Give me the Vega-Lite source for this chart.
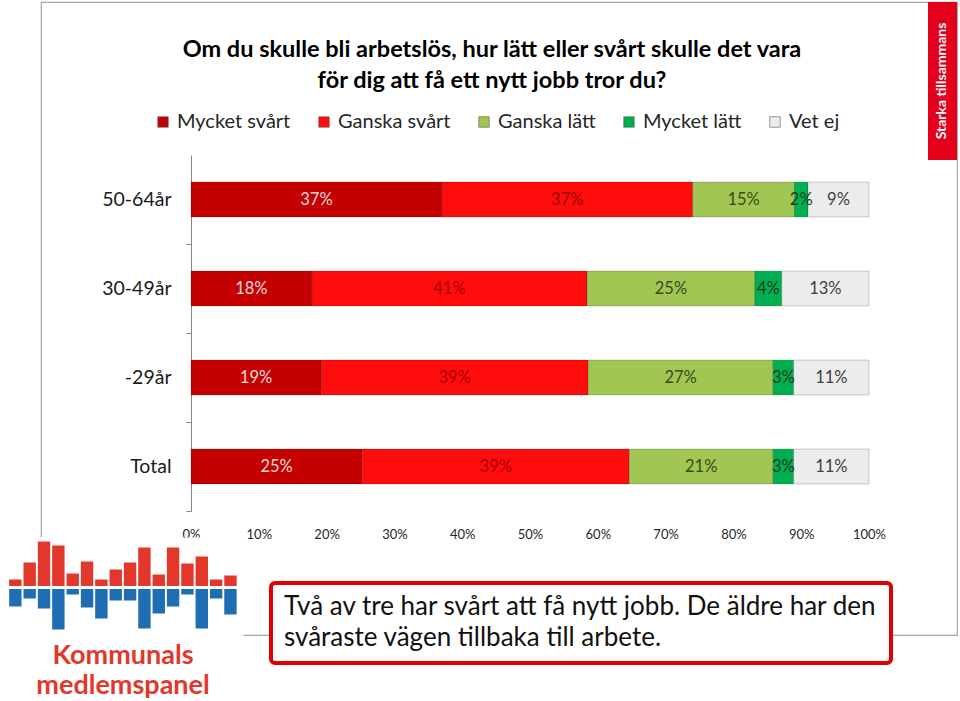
{
  "$schema": "https://vega.github.io/schema/vega-lite/v6.json",
  "width": 916,
  "height": 633,
  "autosize": "none",
  "padding": {"left": 41, "top": 2, "right": 3, "bottom": 66},
  "background": "white",
  "config": {
    "font": "Lato",
    "view": {"stroke": "#a6a6a6", "strokeWidth": 1.2}
  },
  "title": {
    "text": ["Om du skulle bli arbetslös, hur lätt eller svårt skulle det vara", "för dig att få ett nytt jobb tror du?"],
    "font": "Lato",
    "fontSize": 23.5,
    "fontWeight": "bold",
    "color": "#000000",
    "anchor": "middle",
    "frame": "group",
    "baseline": "bottom",
    "offset": -114,
    "dx": -7,
    "lineHeight": 31
  },
  "datasets": {
    "svar": [
      {"grupp": "50-64år", "svar": "Mycket svårt", "andel": 0.37, "ordning": 1},
      {"grupp": "50-64år", "svar": "Ganska svårt", "andel": 0.37, "ordning": 2},
      {"grupp": "50-64år", "svar": "Ganska lätt", "andel": 0.15, "ordning": 3},
      {"grupp": "50-64år", "svar": "Mycket lätt", "andel": 0.02, "ordning": 4},
      {"grupp": "50-64år", "svar": "Vet ej", "andel": 0.09, "ordning": 5},
      {"grupp": "30-49år", "svar": "Mycket svårt", "andel": 0.18, "ordning": 1},
      {"grupp": "30-49år", "svar": "Ganska svårt", "andel": 0.41, "ordning": 2},
      {"grupp": "30-49år", "svar": "Ganska lätt", "andel": 0.25, "ordning": 3},
      {"grupp": "30-49år", "svar": "Mycket lätt", "andel": 0.04, "ordning": 4},
      {"grupp": "30-49år", "svar": "Vet ej", "andel": 0.13, "ordning": 5},
      {"grupp": "-29år", "svar": "Mycket svårt", "andel": 0.19, "ordning": 1},
      {"grupp": "-29år", "svar": "Ganska svårt", "andel": 0.39, "ordning": 2},
      {"grupp": "-29år", "svar": "Ganska lätt", "andel": 0.27, "ordning": 3},
      {"grupp": "-29år", "svar": "Mycket lätt", "andel": 0.03, "ordning": 4},
      {"grupp": "-29år", "svar": "Vet ej", "andel": 0.11, "ordning": 5},
      {"grupp": "Total", "svar": "Mycket svårt", "andel": 0.25, "ordning": 1},
      {"grupp": "Total", "svar": "Ganska svårt", "andel": 0.39, "ordning": 2},
      {"grupp": "Total", "svar": "Ganska lätt", "andel": 0.21, "ordning": 3},
      {"grupp": "Total", "svar": "Mycket lätt", "andel": 0.03, "ordning": 4},
      {"grupp": "Total", "svar": "Vet ej", "andel": 0.11, "ordning": 5}
    ],
    "logo": [
      {"nr": 1, "röd": 8, "blå": -19},
      {"nr": 2, "röd": 25, "blå": -11},
      {"nr": 3, "röd": 46, "blå": -21},
      {"nr": 4, "röd": 42, "blå": -42},
      {"nr": 5, "röd": 14, "blå": -7},
      {"nr": 6, "röd": 26, "blå": -20},
      {"nr": 7, "röd": 8, "blå": -31},
      {"nr": 8, "röd": 18, "blå": -13},
      {"nr": 9, "röd": 25, "blå": -13},
      {"nr": 10, "röd": 40, "blå": -41},
      {"nr": 11, "röd": 13, "blå": -26},
      {"nr": 12, "röd": 40, "blå": -19},
      {"nr": 13, "röd": 24, "blå": -7},
      {"nr": 14, "röd": 31, "blå": -41},
      {"nr": 15, "röd": 8, "blå": -11},
      {"nr": 16, "röd": 12, "blå": -27}
    ],
    "texter": [
      {"band": "Starka tillsammans", "budskap": "Två av tre har svårt att få nytt jobb. De äldre har den\nsvåraste vägen tillbaka till arbete.", "namn": "Kommunals\nmedlemspanel"}
    ]
  },
  "layer": [
    {
      "data": {"name": "svar"},
      "layer": [
        {
          "mark": {"type": "bar", "stroke": "#000000", "strokeOpacity": 0.18, "strokeWidth": 1},
          "encoding": {
            "y": {
              "field": "grupp", "type": "nominal",
              "scale": {"domain": ["50-64år", "30-49år", "-29år", "Total"], "range": [153, 509], "paddingInner": 0.608, "paddingOuter": 0.304},
              "axis": {"title": null, "offset": -150, "domain": true, "domainColor": "#868686", "ticks": true, "bandPosition": 1, "tickOffset": 27, "labelOffset": -27, "tickExtra": false, "tickSize": 5, "tickColor": "#868686", "labelFontSize": 19.5, "labelColor": "#1a1a1a", "labelPadding": 15, "labelFont": "Lato"}
            },
            "x": {
              "field": "andel", "type": "quantitative", "stack": "normalize",
              "scale": {"domain": [-0.22124, 1.12979], "nice": false, "zero": false},
              "axis": {"title": null, "offset": -124, "domain": false, "ticks": false, "grid": false, "values": [0, 0.1, 0.2, 0.3, 0.4, 0.5, 0.6, 0.7, 0.8, 0.9, 1], "format": ".0%", "labelFontSize": 13, "labelPadding": 17, "labelColor": "#262626", "labelFont": "Lato"}
            },
            "color": {
              "field": "svar", "type": "nominal",
              "scale": {"domain": ["Mycket svårt", "Ganska svårt", "Ganska lätt", "Mycket lätt", "Vet ej"], "range": ["#C40000", "#FF0D0D", "#A2C653", "#00B050", "#ECECEC"]},
              "legend": {"orient": "none", "legendX": 112, "legendY": 110, "direction": "horizontal", "title": null, "padding": 0, "symbolType": "square", "symbolSize": 110, "symbolStrokeColor": "#555555", "symbolStrokeWidth": 0.6, "labelFontSize": 20, "labelColor": "#262626", "labelFont": "Lato", "labelOffset": 4, "columnPadding": 23, "labelLimit": 300}
            },
            "order": {"field": "ordning", "type": "quantitative"}
          }
        },
        {
          "mark": {"type": "text", "fontSize": 16.5, "font": "Lato", "baseline": "middle", "align": "center"},
          "encoding": {
            "y": {"field": "grupp", "type": "nominal"},
            "x": {"field": "andel", "type": "quantitative", "stack": "normalize", "bandPosition": 0.5},
            "detail": {"field": "svar", "type": "nominal"},
            "order": {"field": "ordning", "type": "quantitative"},
            "text": {"field": "andel", "type": "quantitative", "format": ".0%"},
            "color": {
              "condition": [
                {"test": "datum.svar === 'Mycket svårt'", "value": "#f7dada"},
                {"test": "datum.svar === 'Ganska svårt'", "value": "#a30000"},
                {"test": "datum.svar === 'Ganska lätt'", "value": "#3a4a1b"},
                {"test": "datum.svar === 'Mycket lätt'", "value": "#143a20"}
              ],
              "value": "#404040"
            }
          }
        }
      ]
    },
    {
      "data": {"name": "texter"},
      "layer": [
        {
          "mark": {"type": "rect", "color": "#E3001B"},
          "encoding": {
            "x": {"datum": 1.08702, "type": "quantitative", "scale": {"domain": [-0.22124, 1.12979], "nice": false, "zero": false}, "axis": null},
            "x2": {"datum": 1.12979},
            "y": {"datum": 0.7504, "type": "quantitative", "scale": {"domain": [0, 1], "nice": false, "zero": false}, "axis": null},
            "y2": {"datum": 1}
          }
        },
        {
          "mark": {"type": "text", "angle": 270, "color": "white", "fontWeight": "bold", "fontSize": 14, "font": "Lato", "align": "center", "baseline": "middle"},
          "encoding": {
            "x": {"datum": 1.1084, "type": "quantitative"},
            "y": {"datum": 0.8752, "type": "quantitative"},
            "text": {"field": "band"}
          }
        },
        {
          "mark": {"type": "rect", "fill": "white", "stroke": "#E00000", "strokeWidth": 4, "cornerRadius": 4},
          "encoding": {
            "x": {"datum": 0.11799, "type": "quantitative"},
            "x2": {"datum": 1.03245},
            "y": {"datum": 0.08215, "type": "quantitative"},
            "y2": {"datum": -0.04423}
          }
        },
        {
          "mark": {"type": "text", "align": "left", "baseline": "middle", "fontSize": 26, "font": "Lato", "color": "#111111", "lineHeight": 31, "lineBreak": "\n"},
          "encoding": {
            "x": {"datum": 0.13717, "type": "quantitative"},
            "y": {"datum": 0.04423, "type": "quantitative"},
            "text": {"field": "budskap"}
          }
        }
      ]
    },
    {
      "layer": [
        {
          "data": {"name": "texter"},
          "mark": {"type": "rect", "fill": "white"},
          "encoding": {
            "x": {"datum": 0.3, "type": "quantitative", "scale": {"domain": [3.138, 66.31], "nice": false, "zero": false}, "axis": null},
            "x2": {"datum": 16.9},
            "y": {"datum": 50, "type": "quantitative", "scale": {"domain": [-47.5, 585.5], "nice": false, "zero": false}, "axis": null},
            "y2": {"datum": -114}
          }
        },
        {
          "data": {"name": "logo"},
          "mark": {"type": "bar", "color": "#E2382B", "width": 12.4, "y2Offset": -1.5},
          "encoding": {
            "x": {"field": "nr", "type": "quantitative"},
            "y": {"field": "röd", "type": "quantitative"},
            "y2": {"datum": 0}
          }
        },
        {
          "data": {"name": "logo"},
          "mark": {"type": "bar", "color": "#1F6DB3", "width": 12.4, "y2Offset": 1.5},
          "encoding": {
            "x": {"field": "nr", "type": "quantitative"},
            "y": {"field": "blå", "type": "quantitative"},
            "y2": {"datum": 0}
          }
        },
        {
          "data": {"name": "texter"},
          "mark": {"type": "text", "align": "center", "baseline": "middle", "fontSize": 27, "fontWeight": "bold", "font": "Lato", "color": "#E2382B", "lineHeight": 30, "lineBreak": "\n"},
          "encoding": {
            "x": {"datum": 8.51, "type": "quantitative"},
            "y": {"datum": -68.5, "type": "quantitative"},
            "text": {"field": "namn"}
          }
        }
      ]
    }
  ],
  "resolve": {"scale": {"x": "independent", "y": "independent"}}
}
